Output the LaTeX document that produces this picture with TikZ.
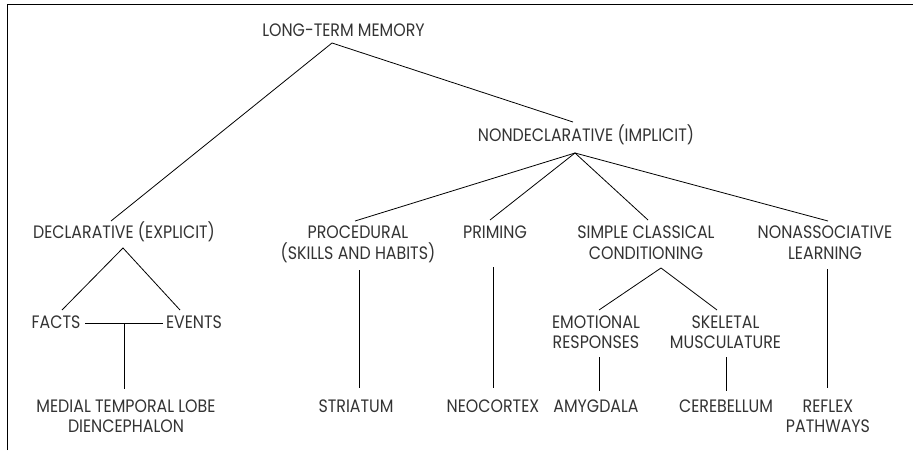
\documentclass[tikz,border=0pt]{standalone}
\usepackage{fontspec}
\setmainfont{Poppins}[FakeStretch=0.88]
\definecolor{txt}{HTML}{333333}
\tikzset{
  lbl/.style={font=\fontsize{18}{20.5}\selectfont, text=txt, inner sep=0pt, text height=11pt, text depth=0pt, align=center, anchor=center},
  con/.style={draw=black, line width=0.8pt}
}
\begin{document}
\begin{tikzpicture}[x=1pt,y=-1pt]
\useasboundingbox (0,0) rectangle (913,450);
% frame (cropped)
\draw[line width=1pt] (7,450) -- (7,4) -- (913,4);
% nodes (two-line nodes are placed by their last line)
\node[lbl] (ltm) at (343.5,30.5) {LONG-TERM MEMORY};
\node[lbl] (nondecl) at (586,136) {NONDECLARATIVE (IMPLICIT)};
\node[lbl] (decl) at (124,233) {DECLARATIVE (EXPLICIT)};
\node[lbl] (proc) at (358,253.5) {PROCEDURAL\\(SKILLS AND HABITS)};
\node[lbl] (prim) at (495,233) {PRIMING};
\node[lbl] (scc) at (646,253.5) {SIMPLE CLASSICAL\\CONDITIONING};
\node[lbl] (nonassoc) at (825,253.5) {NONASSOCIATIVE\\LEARNING};
\node[lbl] (facts) at (56,323) {FACTS};
\node[lbl] (events) at (194,323) {EVENTS};
\node[lbl] (emo) at (596,343) {EMOTIONAL\\RESPONSES};
\node[lbl] (skel) at (725.5,343) {SKELETAL\\MUSCULATURE};
\node[lbl] (mtl) at (126,427) {MEDIAL TEMPORAL LOBE\\DIENCEPHALON};
\node[lbl] (striatum) at (356,407) {STRIATUM};
\node[lbl] (neocortex) at (493,407) {NEOCORTEX};
\node[lbl] (amyg) at (596,407) {AMYGDALA};
\node[lbl] (cereb) at (726,407) {CEREBELLUM};
\node[lbl] (reflex) at (828,427) {REFLEX\\PATHWAYS};
% connector end points
\coordinate (ltmJ) at (332,43);
\coordinate (declT) at (111,221);
\coordinate (nondeclT) at (573,122);
\coordinate (nondeclJ) at (575,153);
\coordinate (procT) at (355,221);
\coordinate (primT) at (490,220);
\coordinate (sccT) at (648,220);
\coordinate (nonassocT) at (828,221);
\coordinate (declJ) at (123,248);
\coordinate (factsT) at (62,310);
\coordinate (eventsT) at (180,310);
\coordinate (factsR) at (85,323);
\coordinate (eventsL) at (163,323);
\coordinate (feJ) at (124,323);
\coordinate (mtlT) at (124,389);
\coordinate (procB) at (359,270);
\coordinate (striatumT) at (359,388);
\coordinate (primB) at (493,267);
\coordinate (neocortexT) at (493,388);
\coordinate (sccJ) at (661,268);
\coordinate (emoT) at (599,310);
\coordinate (skelT) at (717,310);
\coordinate (nonassocB) at (827,269);
\coordinate (reflexT) at (827,388);
\coordinate (emoB) at (599,357);
\coordinate (amygT) at (599,391);
\coordinate (skelB) at (726,357);
\coordinate (cerebT) at (726,391);
% connectors
\draw[con] (declT) -- (ltmJ) -- (nondeclT);
\draw[con] (procT) -- (nondeclJ) -- (nonassocT);
\draw[con] (primT) -- (nondeclJ) -- (sccT);
\draw[con] (factsT) -- (declJ) -- (eventsT);
\draw[con] (factsR) -- (eventsL);
\draw[con] (feJ) -- (mtlT);
\draw[con] (procB) -- (striatumT);
\draw[con] (primB) -- (neocortexT);
\draw[con] (emoT) -- (sccJ) -- (skelT);
\draw[con] (nonassocB) -- (reflexT);
\draw[con] (emoB) -- (amygT);
\draw[con] (skelB) -- (cerebT);
\end{tikzpicture}
\end{document}
